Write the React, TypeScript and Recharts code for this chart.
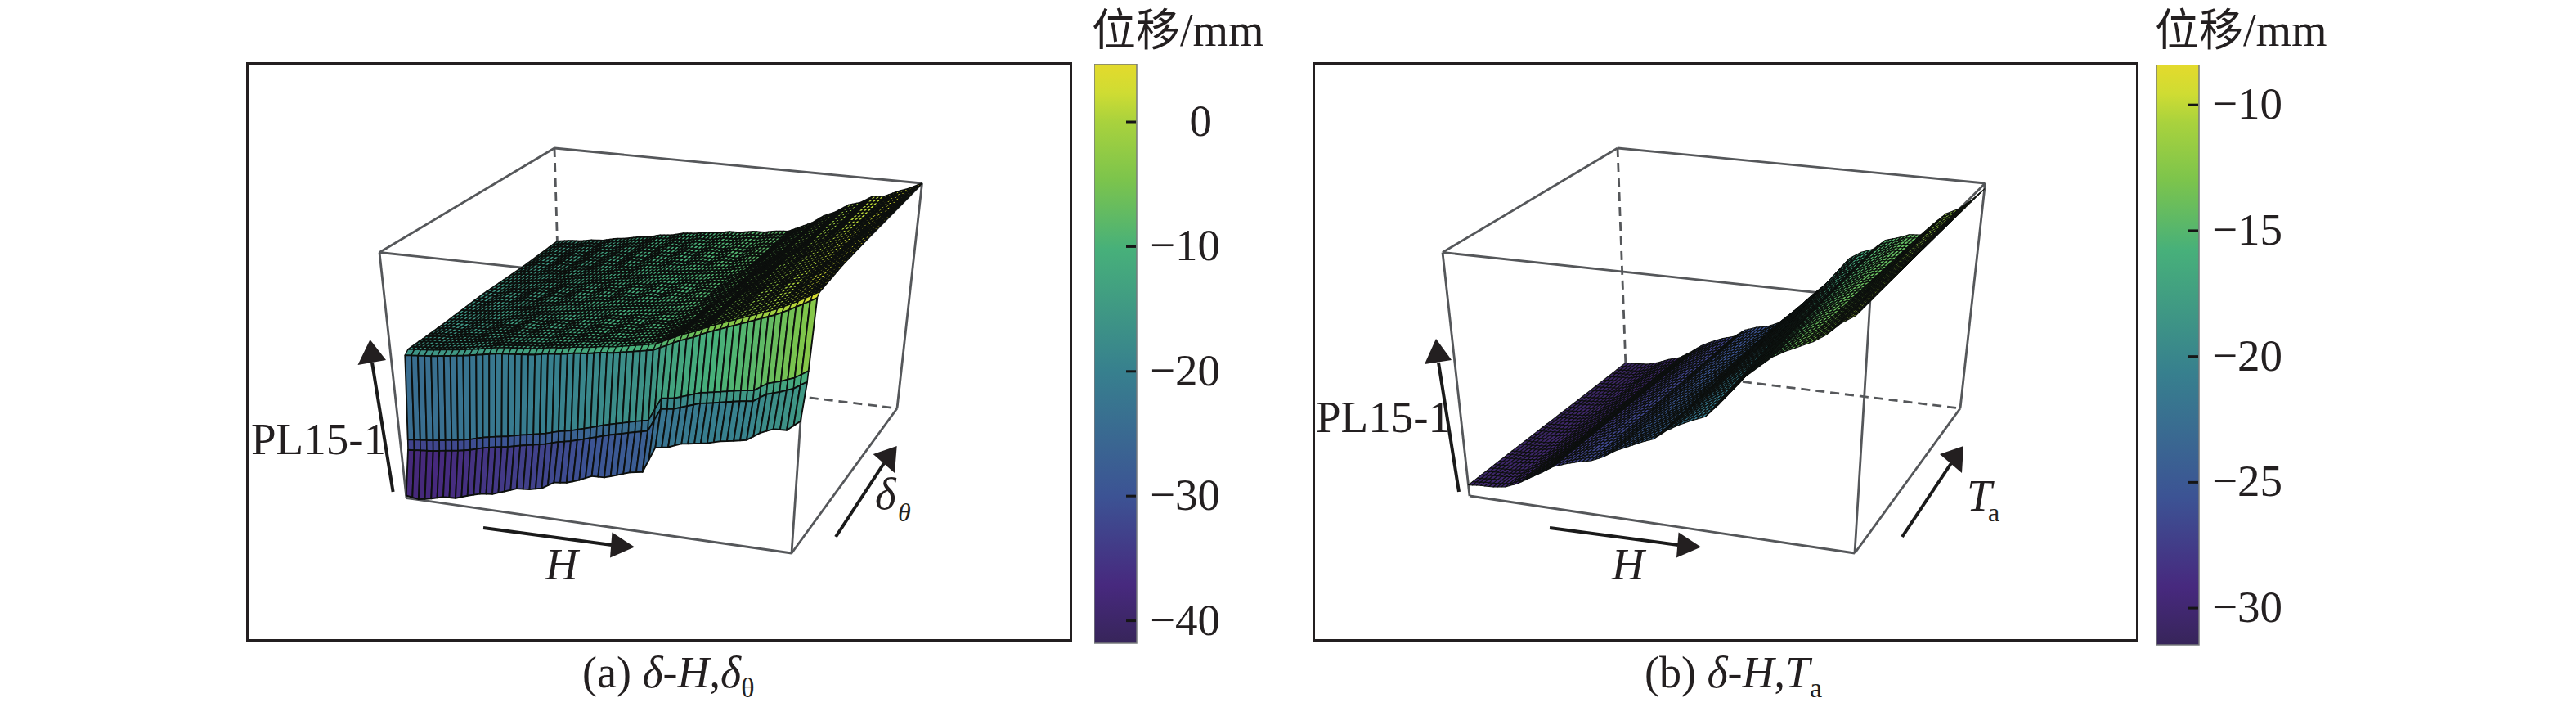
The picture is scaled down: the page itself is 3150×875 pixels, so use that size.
import React from "react";
import { BarChart, Bar, XAxis, YAxis, ScatterChart, Scatter } from "recharts";

// H stations along the depth axis, shared by both surfaces
const hStations = [0, .032, .065, .097, .129, .161, .194, .226, .258, .29, .323, .355, .387, .419, .452, .484, .516, .548, .581, .613, .645, .677, .71, .742, .774, .806, .839, .871, .903, .935, .968, 1];

// (a) normalised PL15-1 height at each delta-theta station
const thetaStationsA = [0, .04, .045, .08, .1, .3, .55, .8, 1];
const wallBottomA = [.01, .002, .012, .026, .028, .045, .06, .066, .084, .102, .106, .118, .148, .154, .172, .194, .196, .212, .23, .238, .342, .35, .37, .378, .386, .4, .408, .418, .452, .474, .476, .518];
const bandLowA = [.175, .18, .185, .193, .2, .21, .225, .235, .243, .255, .265, .275, .29, .3, .315, .33, .345, .357, .37, .381, .475, .482, .5, .517, .525, .535, .545, .551, .585, .6, .62, .653];
const bandHighA = [.215, .22, .225, .233, .24, .25, .265, .275, .283, .295, .305, .315, .33, .34, .355, .37, .385, .397, .41, .421, .515, .522, .54, .557, .565, .575, .585, .591, .625, .64, .66, .693];
const wallTopA = [.543, .548, .553, .56, .567, .575, .585, .595, .6, .605, .61, .62, .625, .635, .64, .65, .655, .665, .675, .685, .71, .735, .755, .78, .8, .82, .84, .86, .88, .905, .935, .965];
const rimA = [.558, .563, .568, .575, .582, .59, .6, .61, .615, .62, .625, .635, .64, .65, .655, .665, .67, .68, .69, .7, .725, .75, .77, .795, .815, .835, .855, .875, .895, .92, .95, .98];
const topNearA = [.56, .568, .568, .58, .582, .596, .6, .616, .615, .628, .629, .643, .645, .659, .659, .673, .673, .687, .689, .705, .719, .751, .769, .803, .823, .853, .869, .899, .911, .943, .965, .995];
const topMidA = [.57, .568, .582, .582, .596, .596, .614, .614, .63, .63, .646, .646, .662, .661, .676, .674, .689, .688, .704, .706, .73, .746, .78, .802, .836, .854, .884, .901, .926, .941, .976, 1];
const topFarA = [.568, .58, .58, .594, .594, .61, .612, .628, .629, .646, .647, .664, .664, .679, .678, .692, .691, .705, .704, .72, .724, .754, .774, .814, .832, .868, .882, .916, .922, .952, .97, 1];
const backA = [.575, .584, .587, .597, .601, .614, .621, .632, .638, .652, .658, .672, .676, .687, .69, .7, .702, .712, .714, .724, .728, .752, .777, .814, .837, .872, .889, .922, .927, .952, .973, 1];

// (b) normalised PL15-1 height at each Ta station
const thetaStationsB = [0, .25, .5, .75, 1];
const frontB = [.045, .05, .052, .06, .08, .11, .14, .172, .19, .205, .217, .24, .272, .295, .32, .34, .38, .41, .435, .456, .51, .57, .635, .68, .725, .755, .78, .805, .84, .89, .925, .997];
const nearB = [.04, .043, .047, .055, .075, .1, .132, .165, .182, .2, .213, .238, .265, .285, .31, .337, .38, .415, .447, .478, .535, .588, .64, .688, .724, .75, .77, .803, .842, .886, .924, .99];
const midB = [.034, .037, .04, .05, .07, .092, .124, .156, .176, .195, .209, .237, .26, .278, .302, .335, .379, .42, .458, .498, .558, .605, .648, .694, .723, .746, .763, .802, .845, .882, .922, .985];
const farB = [.027, .03, .034, .045, .065, .083, .115, .148, .17, .19, .205, .236, .256, .27, .293, .332, .378, .425, .469, .519, .582, .622, .654, .7, .721, .743, .754, .801, .847, .878, .921, .98];
const backB = [.021, .024, .027, .04, .06, .074, .105, .14, .165, .185, .2, .235, .252, .262, .285, .33, .378, .43, .48, .54, .607, .64, .66, .705, .72, .74, .745, .8, .85, .875, .92, .975];

// colour bars
const ticksA = [0, -10, -20, -30, -40];
const ticksB = [-10, -15, -20, -25, -30];
const domainA = [-41.8, 4.66];
const domainB = [-31.46, -8.4];
const colorFractions = [0, .1, .254, .47, .68, .8, .9, .95, 1];
const colorStops = ["#37255a", "#47297e", "#3c5394", "#37808e", "#47b07a", "#7cc44c", "#a9d23d", "#cfdc33", "#e4da2c"];

type P = [number, number];

// screen corners of each cube, [H][theta][z]
const cubeA: P[] = [[497, 608.5], [968, 676], [686, 449], [1097, 499], [464, 308.5], [989, 364.5], [678, 181], [1127.5, 224]];
const cubeB: P[] = [[1797, 606], [2268, 676], [1988, 449], [2397, 499], [1764, 308.5], [2287, 364.5], [1978, 181], [2427.5, 224]];

const edges = [
  [0, 1, 0], [0, 4, 0], [1, 5, 0], [1, 3, 0], [3, 7, 0], [4, 5, 0], [4, 6, 0], [5, 7, 0], [6, 7, 0],
  [6, 2, 1], [2, 3, 1],
];

function project(c: P[], h: number, t: number, z: number): P {
  const at = (k: number) => {
    const low = (c[0][k] * (1 - h) + c[1][k] * h) * (1 - t) + (c[2][k] * (1 - h) + c[3][k] * h) * t;
    const high = (c[4][k] * (1 - h) + c[5][k] * h) * (1 - t) + (c[6][k] * (1 - h) + c[7][k] * h) * t;
    return low * (1 - z) + high * z;
  };
  return [at(0), at(1)];
}

function colorAt(f: number) {
  const v = Math.min(1, Math.max(0, f));
  let i = 0;
  while (i < colorFractions.length - 2 && v > colorFractions[i + 1]) i++;
  const u = (v - colorFractions[i]) / (colorFractions[i + 1] - colorFractions[i]);
  const rgb = [1, 3, 5].map((p) => {
    const a = parseInt(colorStops[i].slice(p, p + 2), 16);
    const b = parseInt(colorStops[i + 1].slice(p, p + 2), 16);
    return Math.round(a + (b - a) * u);
  });
  return `rgb(${rgb.join(",")})`;
}

interface Strip {
  subH: number;
  subT: number;
  stroke: number;
}

// one point per table cell, painted from the back rows to the front
function buildCells(cube: P[], thetas: number[], rows: number[][], strips: Strip[]) {
  const out: any[] = [];
  for (let k = strips.length - 1; k >= 0; k--) {
    for (let i = 0; i < hStations.length - 1; i++) {
      const h0 = hStations[i], h1 = hStations[i + 1], t0 = thetas[k], t1 = thetas[k + 1];
      const z = [rows[k][i], rows[k][i + 1], rows[k + 1][i], rows[k + 1][i + 1]];
      const [px, py] = project(cube, (h0 + h1) / 2, (t0 + t1) / 2, (z[0] + z[1] + z[2] + z[3]) / 4);
      out.push({ px, py, h0, h1, t0, t1, z, ...strips[k] });
    }
  }
  return out;
}

function meshShape(cube: P[]) {
  return function MeshCell(props: any) {
    const { cx, cy, payload: c } = props;
    const dx = cx - c.px, dy = cy - c.py;
    const corner = (u: number, v: number) => {
      const zv = (c.z[0] * (1 - u) + c.z[1] * u) * (1 - v) + (c.z[2] * (1 - u) + c.z[3] * u) * v;
      const p = project(cube, c.h0 + (c.h1 - c.h0) * u, c.t0 + (c.t1 - c.t0) * v, zv);
      return { x: p[0] + dx, y: p[1] + dy, z: zv };
    };
    const facets = [];
    for (let s = 0; s < c.subH; s++) {
      for (let r = 0; r < c.subT; r++) {
        const q = [
          corner(s / c.subH, r / c.subT),
          corner((s + 1) / c.subH, r / c.subT),
          corner((s + 1) / c.subH, (r + 1) / c.subT),
          corner(s / c.subH, (r + 1) / c.subT),
        ];
        facets.push(
          <polygon
            key={`${s}-${r}`}
            points={q.map((p) => `${p.x.toFixed(1)},${p.y.toFixed(1)}`).join(" ")}
            fill={colorAt((q[0].z + q[1].z + q[2].z + q[3].z) / 4)}
            stroke="#0c0f0d"
            strokeWidth={c.stroke}
            strokeLinejoin="round"
          />
        );
      }
    }
    return <g>{facets}</g>;
  };
}

const hideMark = () => null;

function Surface({ box, cube, cells }: { box: number[]; cube: P[]; cells: any[] }) {
  const [x0, y0, x1, y1] = box;
  const Cell = meshShape(cube);
  return (
    <div style={{ position: "absolute", left: x0, top: y0 }}>
      <ScatterChart width={x1 - x0} height={y1 - y0} margin={{ top: 0, right: 0, bottom: 0, left: 0 }}>
        <XAxis type="number" dataKey="px" domain={[x0, x1]} hide />
        <YAxis type="number" dataKey="py" domain={[y0, y1]} reversed hide />
        {edges.map(([a, b, dashed], i) => (
          <Scatter
            key={i}
            data={[a, b].map((n) => ({ px: cube[n][0], py: cube[n][1] }))}
            line={{ stroke: "#55575a", strokeWidth: 2.8, strokeDasharray: dashed ? "11 7" : undefined }}
            shape={hideMark}
            isAnimationActive={false}
          />
        ))}
        <Scatter data={cells} shape={Cell} isAnimationActive={false} />
      </ScatterChart>
    </div>
  );
}

function ColorBar({ left, top, height, domain, ticks, id }: { left: number; top: number; height: number; domain: number[]; ticks: number[]; id: string }) {
  const barWidth = 52;
  const renderTick = (p: any) => {
    const v = p.payload.value;
    const label = v < 0 ? `\u2212${Math.abs(v)}` : `${v}`;
    return (
      <g>
        <line x1={p.x - 13} x2={p.x - 1} y1={p.y} y2={p.y} stroke="#161616" strokeWidth={3} />
        <text x={p.x + (v === 0 ? 92 : 102)} y={p.y + 17} textAnchor="end" fontSize={55} fill="#231f20" fontFamily="'Liberation Serif', serif">
          {label}
        </text>
      </g>
    );
  };
  return (
    <div style={{ position: "absolute", left, top }}>
      <BarChart width={barWidth + 130} height={height + 40} data={[{ name: "bar", range: domain }]} barCategoryGap={0} margin={{ top: 0, right: 0, bottom: 40, left: 0 }}>
        <defs>
          <linearGradient id={id} x1="0" y1="1" x2="0" y2="0">
            {colorStops.map((c, i) => (
              <stop key={c} offset={colorFractions[i]} stopColor={c} />
            ))}
          </linearGradient>
        </defs>
        <XAxis dataKey="name" hide />
        <YAxis
          orientation="right"
          type="number"
          domain={domain}
          ticks={ticks}
          width={130}
          axisLine={false}
          tickLine={false}
          tickSize={0}
          tickMargin={0}
          interval={0}
          tick={renderTick}
        />
        <Bar dataKey="range" fill={`url(#${id})`} stroke="#77797c" strokeWidth={1.5} isAnimationActive={false} />
      </BarChart>
    </div>
  );
}

function Arrow({ from, neck, a, b, tip }: { from: P; neck: P; a: P; b: P; tip: P }) {
  return (
    <g>
      <line x1={from[0]} y1={from[1]} x2={neck[0]} y2={neck[1]} stroke="#1a1a1a" strokeWidth={4} />
      <polygon points={`${tip[0]},${tip[1]} ${a[0]},${a[1]} ${b[0]},${b[1]}`} fill="#231f20" />
    </g>
  );
}

const serif = "'Liberation Serif', serif";

function Notes() {
  return (
    <svg width={3150} height={875} style={{ position: "absolute", left: 0, top: 0, pointerEvents: "none" }} fontFamily={serif} fill="#231f20">
      <Arrow from={[480.6, 601]} neck={[455, 443]} a={[437.5, 446]} b={[472, 440]} tip={[452.5, 415]} />
      <Arrow from={[591, 645]} neck={[748, 666]} a={[748.5, 650.6]} b={[746, 681.4]} tip={[776, 668.5]} />
      <Arrow from={[1022, 656]} neck={[1081, 566]} a={[1067.7, 555]} b={[1094, 578]} tip={[1096.7, 545]} />
      <Arrow from={[1784, 601]} neck={[1759, 443]} a={[1742, 445]} b={[1775, 440]} tip={[1756, 414]} />
      <Arrow from={[1895, 645]} neck={[2052, 666]} a={[2052.6, 650.6]} b={[2050, 681.4]} tip={[2080, 668.5]} />
      <Arrow from={[2326, 656]} neck={[2386, 566]} a={[2372, 555]} b={[2399, 578]} tip={[2401, 545]} />

      <text x={307} y={555} fontSize={55}>PL15-1</text>
      <text x={1609} y={528} fontSize={55}>PL15-1</text>
      <text x={667} y={708} fontSize={55} fontStyle="italic">H</text>
      <text x={1971} y={708} fontSize={55} fontStyle="italic">H</text>
      <text x={1070} y={622} fontSize={55} fontStyle="italic">δ</text>
      <text x={1098} y={637} fontSize={32} fontStyle="italic">θ</text>
      <text x={2405} y={624} fontSize={55} fontStyle="italic">T</text>
      <text x={2431} y={637} fontSize={32}>a</text>

      <text x={712} y={840} fontSize={54}>
        (a) <tspan fontStyle="italic">δ</tspan>-<tspan fontStyle="italic">H</tspan>,<tspan fontStyle="italic">δ</tspan>
        <tspan fontSize={34} dy={12}>θ</tspan>
      </text>
      <text x={2011} y={840} fontSize={54}>
        (b) <tspan fontStyle="italic">δ</tspan>-<tspan fontStyle="italic">H</tspan>,<tspan fontStyle="italic">T</tspan>
        <tspan fontSize={34} dy={12}>a</tspan>
      </text>
    </svg>
  );
}

function Title({ left }: { left: number }) {
  return (
    <div style={{ position: "absolute", left, top: 2, fontSize: 56, lineHeight: "62px", whiteSpace: "nowrap", color: "#231f20", fontFamily: serif }}>
      <span style={{ fontFamily: "'Noto Sans CJK SC'", fontSize: 54, lineHeight: "62px" }}>位移</span>/mm
    </div>
  );
}

const cellsA = buildCells(
  cubeA,
  thetaStationsA,
  [wallBottomA, bandLowA, bandHighA, wallTopA, rimA, topNearA, topMidA, topFarA, backA],
  [
    { subH: 2, subT: 1, stroke: 1.9 },
    { subH: 2, subT: 1, stroke: 1.6 },
    { subH: 2, subT: 1, stroke: 1.9 },
    { subH: 2, subT: 1, stroke: 1.3 },
    { subH: 3, subT: 9, stroke: 1.7 },
    { subH: 3, subT: 10, stroke: 1.7 },
    { subH: 3, subT: 10, stroke: 1.7 },
    { subH: 3, subT: 8, stroke: 1.7 },
  ]
);

const cellsB = buildCells(
  cubeB,
  thetaStationsB,
  [frontB, nearB, midB, farB, backB],
  [
    { subH: 3, subT: 9, stroke: 1.05 },
    { subH: 3, subT: 9, stroke: 1.05 },
    { subH: 3, subT: 9, stroke: 1.05 },
    { subH: 3, subT: 9, stroke: 1.05 },
  ]
);

export default function App() {
  return (
    <div style={{ position: "absolute", left: 0, top: 0, width: 3150, height: 875, background: "#fff", overflow: "hidden" }}>
      <div style={{ position: "absolute", left: 301, top: 76, width: 1010, height: 708, border: "3px solid #231f20", boxSizing: "border-box" }} />
      <div style={{ position: "absolute", left: 1605, top: 76, width: 1010, height: 708, border: "3px solid #231f20", boxSizing: "border-box" }} />
      <Surface box={[304, 79, 1308, 781]} cube={cubeA} cells={cellsA} />
      <Surface box={[1608, 79, 2612, 781]} cube={cubeB} cells={cellsB} />
      <ColorBar left={1338} top={78} height={708} domain={domainA} ticks={ticksA} id="gradA" />
      <ColorBar left={2637} top={79} height={709} domain={domainB} ticks={ticksB} id="gradB" />
      <Notes />
      <Title left={1335} />
      <Title left={2635} />
    </div>
  );
}
